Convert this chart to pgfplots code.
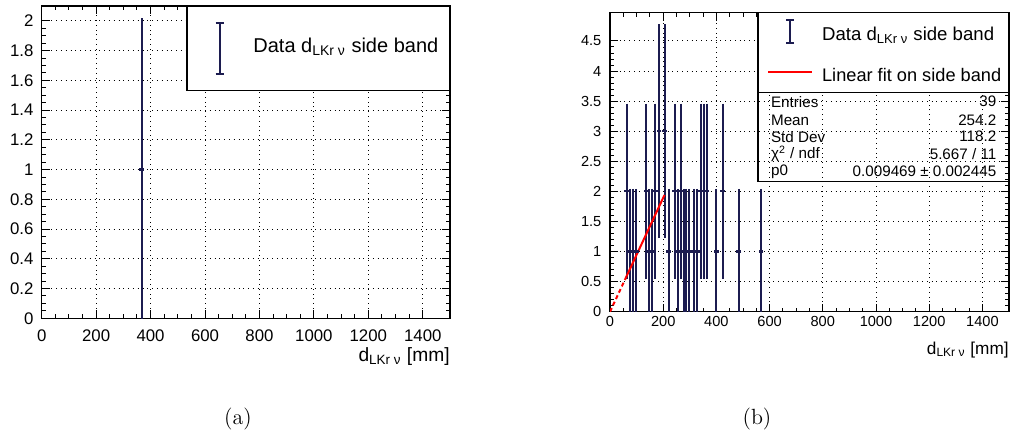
\documentclass[border=0pt]{standalone}
\usepackage{pgfplots}
\pgfplotsset{compat=1.18}
\usepackage{pgfplotstable}
\usepackage{fontspec}
\newfontfamily\helv{Liberation Sans}
\definecolor{navy}{HTML}{1C1C50}
\newcommand{\dsub}{d\textsubscript{LKr ν}}

\pgfplotstableread{
x y e
367 1 1
}\tabA

\pgfplotstableread{
x y e
63 2 1.414
77 1 1
87 1 1
99 1 1
136 2 1.414
148 1 1
158 1 1
171 2 1.414
184 3 1.732
206 3 1.732
220 1 1
243 2 1.414
254 1 1
266 2 1.414
277 1 1
287 1 1
296 1 1
315 1 1
328 1 1
341 2 1.414
353 2 1.414
365 2 1.414
399 1 1
424 2 1.414
484 1 1
568 1 1
}\tabB

\pgfplotsset{rootstyle/.style={
  scale only axis,
  axis line style={line width=0.7pt},
  tick align=inside, xtick pos=both, ytick pos=both,
  major tick length=4pt, minor tick length=2pt,
  tick style={line width=0.5pt, black},
  grid=major,
  major grid style={dotted, line width=0.5pt, black},
  xmin=0, xmax=1500, ymin=0,
  xtick={0,200,400,600,800,1000,1200,1400},
  minor x tick num=3,
  /pgf/number format/assume math mode=true,
  /pgf/number format/1000 sep={},
  xlabel style={at={(rel axis cs:1,0)}, anchor=north east, inner sep=0pt},
}}
\pgfplotsset{databars/.style={
  only marks, navy, mark=-, mark size=1.2pt, mark options={line width=1.1pt},
  error bars/.cd, y dir=both, y explicit,
  error bar style={line width=1pt, navy},
  error mark options={line width=1pt, mark size=1.3pt, navy},
}}

\begin{document}
\begin{tikzpicture}
\useasboundingbox (0,0) rectangle (506.5pt,217.5pt);

% ---------- (a)
\begin{axis}[rootstyle,
  at={(20.85pt,58.35pt)}, anchor=south west,
  width=204.15pt, height=156.15pt,
  ymax=2.1,
  ytick={0,0.2,0.4,0.6,0.8,1,1.2,1.4,1.6,1.8,2},
  yticklabels={0,0.2,0.4,0.6,0.8,1,1.2,1.4,1.6,1.8,2},
  minor y tick num=3,
  tick label style={font=\helv\fontsize{8.4}{10}\selectfont},
  xticklabel style={yshift=-2.2pt},
  yticklabel style={xshift=-0.6pt},
  xlabel={\helv\fontsize{9.6}{11}\selectfont \dsub\ [mm]},
  xlabel style={yshift=-14.5pt},
]
\addplot[databars] table[x=x, y=y, y error=e] {\tabA};
\end{axis}
\filldraw[fill=white, draw=black, line width=0.6pt] (93.5pt,172.15pt) rectangle (225pt,214.5pt);
\draw[navy, line width=0.8pt] (110pt,180.5pt) -- (110pt,206pt)
   (107.8pt,180.5pt) -- (112.2pt,180.5pt) (107.8pt,206pt) -- (112.2pt,206pt);
\node[anchor=west, inner sep=0pt, font=\helv\fontsize{10}{12}\selectfont] at (126.5pt,194pt) {Data \dsub\ side band};
\node[font=\fontsize{11}{13}\selectfont] at (119pt,8pt) {(a)};

% ---------- (b)
\begin{axis}[rootstyle,
  at={(305pt,61.65pt)}, anchor=south west,
  width=199.5pt, height=149.5pt,
  ymax=4.97,
  ytick={0,0.5,1,1.5,2,2.5,3,3.5,4,4.5},
  yticklabels={0,0.5,1,1.5,2,2.5,3,3.5,4,4.5},
  minor y tick num=4,
  tick label style={font=\helv\fontsize{7.3}{9}\selectfont},
  xticklabel style={yshift=1.2pt},
  yticklabel style={xshift=-0.8pt},
  xlabel={\helv\fontsize{8.6}{10}\selectfont \dsub\ [mm]},
  xlabel style={yshift=-15pt},
]
\addplot[databars] table[x=x, y=y, y error=e] {\tabB};
\addplot[red, line width=1pt, dash pattern=on 2pt off 1.5pt] coordinates {(0,0) (62,0.587)};
\addplot[red, line width=1pt] coordinates {(62,0.587) (205,1.941)};
\end{axis}
\filldraw[fill=white, draw=black, line width=0.6pt] (379pt,171.15pt) rectangle (504.5pt,211.35pt);
\draw[black, line width=0.6pt] (379pt,126.65pt) rectangle (504.5pt,171.15pt);
\draw[navy, line width=0.8pt] (395pt,196pt) -- (395pt,207.5pt)
   (393pt,196pt) -- (397pt,196pt) (393pt,207.5pt) -- (397pt,207.5pt);
\node[anchor=west, inner sep=0pt, font=\helv\fontsize{9.3}{11}\selectfont] at (410.85pt,200pt) {Data \dsub\ side band};
\draw[red, line width=1pt] (384pt,181.65pt) -- (406pt,181.65pt);
\node[anchor=west, inner sep=0pt, font=\helv\fontsize{9.1}{11}\selectfont] at (410.85pt,180pt) {Linear fit on side band};
\begin{scope}[every node/.style={inner sep=0pt, font=\helv\fontsize{7.6}{8}\selectfont}]
\node[anchor=west] at (385.35pt,166.65pt) {Entries};
\node[anchor=west] at (385.35pt,157.5pt) {Mean};
\node[anchor=west] at (385.35pt,149.15pt) {Std Dev};
\node[anchor=west] at (385.35pt,140.5pt) {χ\textsuperscript{2} / ndf};
\node[anchor=west] at (385.35pt,131.65pt) {p0};
\node[anchor=east] at (498.35pt,166.65pt) {39};
\node[anchor=east] at (498.35pt,157.5pt) {254.2};
\node[anchor=east] at (498.35pt,149.15pt) {118.2};
\node[anchor=east] at (498.35pt,140.5pt) {5.667 / 11};
\node[anchor=east] at (498.35pt,131.65pt) {0.009469 ± 0.002445};
\end{scope}
\node[font=\fontsize{11}{13}\selectfont] at (378.5pt,8pt) {(b)};
\end{tikzpicture}
\end{document}
